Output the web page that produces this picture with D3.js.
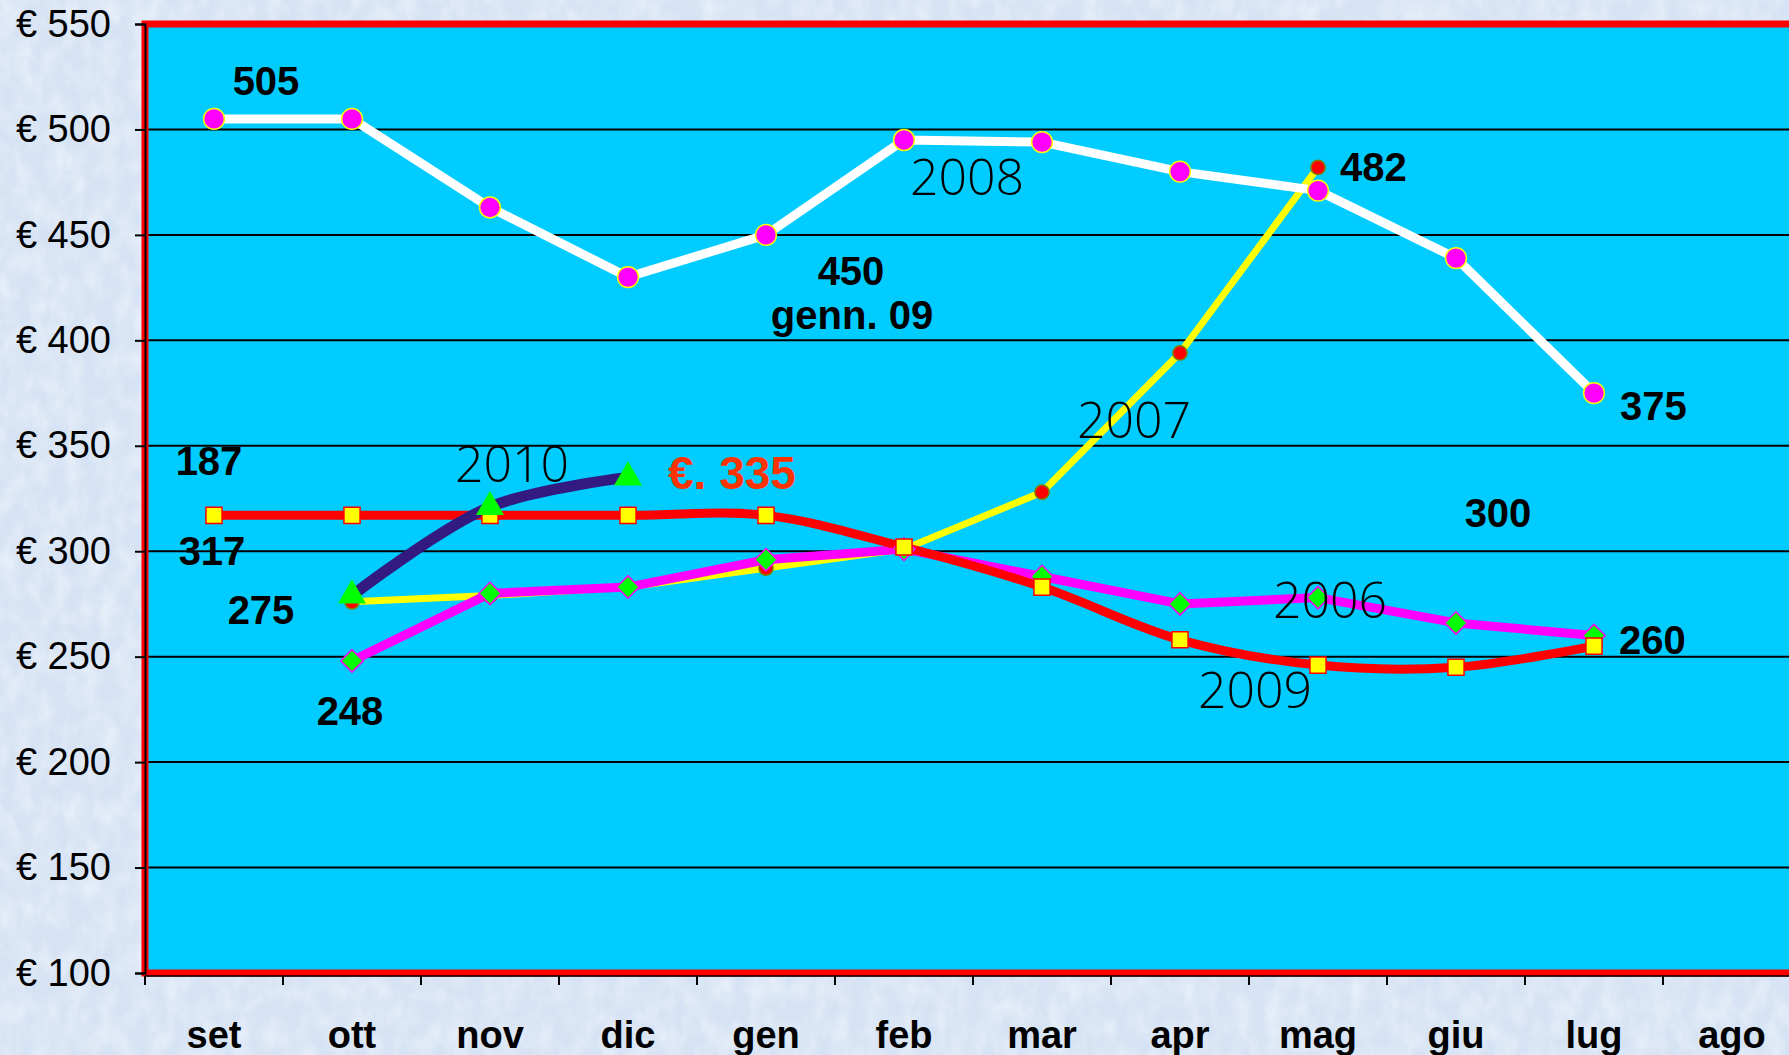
<!DOCTYPE html>
<html>
<head>
<meta charset="utf-8">
<script src="https://d3js.org/d3.v7.min.js"></script>
<style>
  body { margin: 0; background: #dfe9f6; overflow: hidden; }
  .ytick text { font-family: "Liberation Sans Narrow", "Liberation Sans", sans-serif; font-size: 38px; fill: #000; }
  .xtick text { font-family: "Liberation Sans Narrow", "Liberation Sans", sans-serif; font-weight: bold; font-size: 38px; fill: #000; }
  .num { font-family: "Liberation Sans Narrow", "Liberation Sans", sans-serif; font-weight: bold; font-size: 40px; fill: #000; }
  .year { font-family: "Open Sans", "Noto Sans", sans-serif; font-weight: 300; font-size: 50px; fill: #000; }
</style>
</head>
<body>
<svg id="chart" width="1789" height="1055"></svg>
<script>
// months (set -> ago)
const months = ["set", "ott", "nov", "dic", "gen", "feb", "mar", "apr", "mag", "giu", "lug", "ago"];
const yTicks = [100, 150, 200, 250, 300, 350, 400, 450, 500, 550];

// one array per year, null = no value
const s2008 = [505, 505, 463, 430, 450, 495, 494, 480, 471, 439, 375, null];
const s2007 = [null, 276, 279, 283, 292, 301, 328, 394, 482, null, null, null];
const s2006 = [null, 248, 280, 283, 296, 301, 288, 275, 278, 266, 260, null];
const s2009 = [317, 317, 317, 317, 317, 302, 283, 258, 246, 245, 255, null];
const s2010 = [null, 279, 321, 335, null, null, null, null, null, null, null, null];

// free labels on the chart: [text, month, value, class, anchor, dx]
const labels = [
  ["505", "set", 523, "num", "middle", 52],
  ["450", "gen", 433, "num", "middle", 85],
  ["genn. 09", "gen", 412, "num", "middle", 86],
  ["2008", "feb", 477, "year", "middle", 63],
  ["482", "mag", 482, "num", "start", 22],
  ["375", "lug", 369, "num", "start", 26],
  ["2007", "mar", 362, "year", "start", 35],
  ["187", "set", 343, "num", "middle", -5],
  ["2010", "nov", 341, "year", "middle", 22],
  ["317", "set", 300, "num", "middle", -2],
  ["300", "giu", 318, "num", "middle", 42],
  ["275", "set", 272, "num", "middle", 47],
  ["2006", "mag", 276.5, "year", "middle", 12],
  ["260", "lug", 258, "num", "start", 25],
  ["2009", "apr", 234, "year", "middle", 75],
  ["248", "ott", 224, "num", "middle", -2]
];

const svg = d3.select("#chart");

// mottled paper background
const defs = svg.append("defs");
const f = defs.append("filter").attr("id", "paper").attr("x", 0).attr("y", 0).attr("width", 1).attr("height", 1);
f.append("feTurbulence").attr("type", "fractalNoise").attr("baseFrequency", "0.06 0.04").attr("numOctaves", 3).attr("seed", 4);
f.append("feColorMatrix").attr("values",
  "0 0 0 0 1  0 0 0 0 1  0 0 0 0 1  0 0 0 -1.2 0.8");
svg.append("rect").attr("width", 1789).attr("height", 1055).attr("fill", "#d6e3f4");
svg.append("rect").attr("width", 1789).attr("height", 1055).attr("filter", "url(#paper)").attr("opacity", 0.6);

const x = d3.scaleBand().domain(months).range([145, 1801]);
const y = d3.scaleLinear().domain([100, 550]).range([973, 24]);
const cx = m => x(m) + x.bandwidth() / 2;

// plot background
svg.append("rect")
  .attr("x", x.range()[0]).attr("y", y(550))
  .attr("width", x.range()[1] - x.range()[0]).attr("height", y(100) - y(550))
  .attr("fill", "#00ccff");

// grid lines
svg.append("g").selectAll("line")
  .data(yTicks.filter(d => d > 100 && d < 550))
  .join("line")
  .attr("x1", x.range()[0]).attr("x2", x.range()[1])
  .attr("y1", d => y(d)).attr("y2", d => y(d))
  .attr("stroke", "#000").attr("stroke-width", 2);

// red frame
svg.append("path")
  .attr("d", `M${x.range()[1] + 10},${y(550)} H${x.range()[0]} V${y(100)} H${x.range()[1] + 10}`)
  .attr("fill", "none").attr("stroke", "#ff0000").attr("stroke-width", 7);

// y axis
const yAxis = svg.append("g").attr("class", "ytick")
  .attr("transform", `translate(${x.range()[0]},0)`)
  .call(d3.axisLeft(y).tickValues(yTicks).tickSize(10).tickPadding(24).tickFormat(d => "€ " + d));
yAxis.select(".domain").attr("stroke", "#000").attr("stroke-width", 2);
yAxis.selectAll(".tick line").attr("stroke", "#000").attr("stroke-width", 2);

// x axis (ticks on band edges)
const xAxis = svg.append("g").attr("class", "xtick")
  .attr("transform", `translate(0,${y(100) + 3})`);
xAxis.append("line")
  .attr("x1", x.range()[0]).attr("x2", x.range()[1])
  .attr("stroke", "#000").attr("stroke-width", 1.5);
xAxis.selectAll("line.t").data(months)
  .join("line").attr("class", "t")
  .attr("x1", d => x(d)).attr("x2", d => x(d))
  .attr("y1", 0).attr("y2", 9)
  .attr("stroke", "#000").attr("stroke-width", 2);
xAxis.selectAll("text").data(months)
  .join("text")
  .attr("x", d => cx(d)).attr("y", 72)
  .attr("text-anchor", "middle")
  .text(d => d);

function series(vals) {
  return months.map((m, i) => ({ m: m, v: vals[i] })).filter(d => d.v != null);
}

function drawLine(vals, color, width, curve) {
  const line = d3.line().x(d => cx(d.m)).y(d => y(d.v)).curve(curve);
  svg.append("path").datum(series(vals))
    .attr("d", line)
    .attr("fill", "none").attr("stroke", color)
    .attr("stroke-width", width).attr("stroke-linejoin", "round").attr("stroke-linecap", "round");
}

function drawMarks(vals, shape, size, fill, stroke) {
  svg.append("g").selectAll("path").data(series(vals))
    .join("path")
    .attr("transform", d => `translate(${cx(d.m)},${y(d.v)})`)
    .attr("d", d3.symbol().type(shape).size(size))
    .attr("fill", fill).attr("stroke", stroke).attr("stroke-width", 1.5);
}

// lines, bottom to top
drawLine(s2007, "#ffff00", 7, d3.curveLinear);
drawLine(s2008, "#ffffff", 9, d3.curveLinear);
drawLine(s2006, "#ff00ff", 9, d3.curveLinear);
drawLine(s2009, "#ff0000", 9, d3.curveCatmullRom);
drawLine(s2010, "#331a80", 11, d3.curveCatmullRom);

// markers
drawMarks(s2007, d3.symbolCircle, 160, "#ff0000", "#808000");
drawMarks(s2008, d3.symbolCircle, 340, "#ff00ff", "#ffff00");
drawMarks(s2006, d3.symbolDiamond2, 320, "#00ff00", "#ff00ff");
drawMarks(s2009, d3.symbolSquare, 260, "#ffff00", "#ff0000");
drawMarks(s2010, d3.symbolTriangle, 280, "#00ff00", "#00ff00");

// free labels
svg.append("g").selectAll("text").data(labels)
  .join("text")
  .attr("class", d => d[3])
  .attr("x", d => cx(d[1]) + d[5])
  .attr("y", d => y(d[2]))
  .attr("dy", "0.35em")
  .attr("text-anchor", d => d[4])
  .text(d => d[0]);

// latest value, in red
svg.append("text")
  .attr("class", "num")
  .attr("x", cx("dic") + 40).attr("y", y(s2010[3]) - 5)
  .attr("dy", "0.35em")
  .style("font-size", "46px")
  .style("fill", "#ff3300")
  .text("€. " + s2010[3]);
</script>
</body>
</html>
